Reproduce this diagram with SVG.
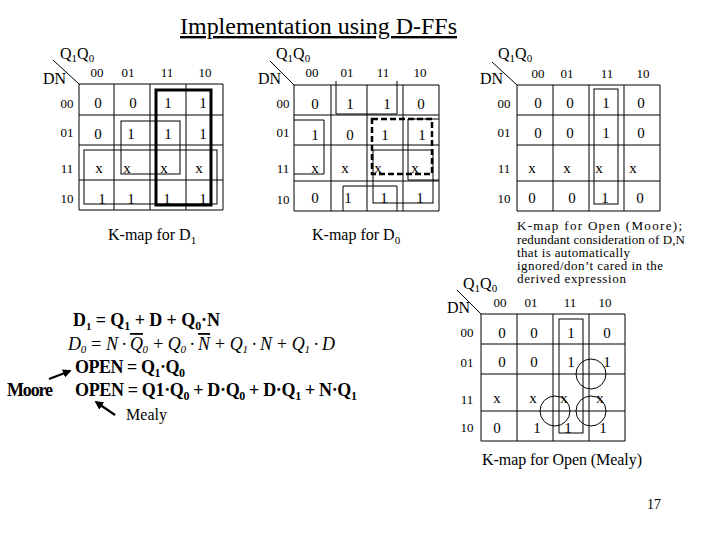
<svg xmlns="http://www.w3.org/2000/svg" width="720" height="540" viewBox="0 0 720 540">
<style>
text { font-family: "Liberation Serif", "Times New Roman", serif; fill: #000; }
.v { font-size: 15px; text-anchor: middle; }
.h { font-size: 13px; text-anchor: middle; }
.q { font-size: 16px; }
.s { font-size: 11px; }
.cap { font-size: 16px; }
.note { font-size: 13px; }
.eq { font-size: 18px; font-weight: bold; }
.grid { fill: none; stroke: #000; stroke-width: 1; }
.grp { fill: none; stroke: #000; stroke-width: 1; }
.thick { stroke-width: 3; }
.dash { stroke-width: 2.5; stroke-dasharray: 6 3; }
.diag { stroke: #000; stroke-width: 1; }
.arr { stroke: #000; stroke-width: 2.2; fill: none; marker-end: url(#ah); }
</style>
<defs>
<marker id="ah" viewBox="0 0 10 10" refX="8" refY="5" markerWidth="4" markerHeight="4" orient="auto">
<path d="M0,0 L10,5 L0,10 z" fill="#000"/>
</marker>
</defs>

<rect width="720" height="540" fill="#fff"/>

<text id="title" x="180" y="34" font-size="24" textLength="277" lengthAdjust="spacingAndGlyphs" text-decoration="underline">Implementation using D-FFs</text>

<g id="kmap-d1">
<line class="diag" x1="53" y1="60" x2="79" y2="84"/>
<text class="q" x="60" y="59">Q<tspan class="s" dy="3">1</tspan><tspan dy="-3">Q</tspan><tspan class="s" dy="3">0</tspan></text>
<text class="q" x="43" y="84">DN</text>
<text class="h" y="77"><tspan x="97">00</tspan><tspan x="128">01</tspan><tspan x="167">11</tspan><tspan x="205">10</tspan></text>
<text class="h" x="67" y="108">00</text>
<text class="h" x="67" y="137">01</text>
<text class="h" x="67" y="173">11</text>
<text class="h" x="67" y="203">10</text>
<path class="grid" d="M79,84 H223 V210 H79 Z M114,84 V210 M150,84 V210 M186,84 V210 M79,115 H223 M79,145 H223 M79,180 H223"/>
<text class="v" y="108"><tspan x="98">0</tspan><tspan x="133">0</tspan><tspan x="168">1</tspan><tspan x="203">1</tspan></text>
<text class="v" y="139"><tspan x="98">0</tspan><tspan x="131">1</tspan><tspan x="168">1</tspan><tspan x="203">1</tspan></text>
<text class="v" y="173"><tspan x="99">x</tspan><tspan x="127">x</tspan><tspan x="164">x</tspan><tspan x="199">x</tspan></text>
<text class="v" y="204"><tspan x="102">1</tspan><tspan x="131">1</tspan><tspan x="167">1</tspan><tspan x="203">1</tspan></text>
<rect class="grp thick" x="156" y="90" width="55" height="115"/>
<rect class="grp" x="121" y="121" width="59" height="53"/>
<rect class="grp" x="84" y="150" width="133" height="54"/>
<text class="cap" x="108" y="240">K-map for D<tspan class="s" dy="4">1</tspan></text>
</g>

<g id="kmap-d0">
<line class="diag" x1="270" y1="61" x2="294" y2="85"/>
<text class="q" x="276" y="59">Q<tspan class="s" dy="3">1</tspan><tspan dy="-3">Q</tspan><tspan class="s" dy="3">0</tspan></text>
<text class="q" x="258" y="84">DN</text>
<text class="h" y="77"><tspan x="312">00</tspan><tspan x="347">01</tspan><tspan x="383">11</tspan><tspan x="420">10</tspan></text>
<text class="h" x="283" y="108">00</text>
<text class="h" x="283" y="137">01</text>
<text class="h" x="283" y="173">11</text>
<text class="h" x="283" y="204">10</text>
<path class="grid" d="M294,85 H439 V211 H294 Z M331,85 V211 M367,85 V211 M403,85 V211 M294,115 H439 M294,145 H439 M294,181 H439"/>
<text class="v" y="109"><tspan x="315">0</tspan><tspan x="350">1</tspan><tspan x="387">1</tspan><tspan x="421">0</tspan></text>
<text class="v" y="140"><tspan x="315">1</tspan><tspan x="350">0</tspan><tspan x="385">1</tspan><tspan x="422">1</tspan></text>
<text class="v" y="173"><tspan x="315">x</tspan><tspan x="345">x</tspan><tspan x="378">x</tspan><tspan x="415">x</tspan></text>
<text class="v" y="203"><tspan x="315">0</tspan><tspan x="348">1</tspan><tspan x="384">1</tspan><tspan x="420">1</tspan></text>
<path class="grp" d="M336,81 V114 H397 V81"/>
<path class="grp" d="M343,211 V186 H397 V211"/>
<path class="grp" d="M294,120 H324 V174 H294"/>
<path class="grp" d="M439,119 H408 V180 H439"/>
<rect class="grp" x="373" y="150" width="60" height="53"/>
<rect class="grp dash" x="372" y="119" width="60" height="55"/>
<text class="cap" x="312" y="240">K-map for D<tspan class="s" dy="4">0</tspan></text>
</g>

<g id="kmap-open-moore">
<line class="diag" x1="492" y1="62" x2="517" y2="85"/>
<text class="q" x="498" y="59">Q<tspan class="s" dy="3">1</tspan><tspan dy="-3">Q</tspan><tspan class="s" dy="3">0</tspan></text>
<text class="q" x="480" y="84">DN</text>
<text class="h" y="78"><tspan x="538">00</tspan><tspan x="567">01</tspan><tspan x="607">11</tspan><tspan x="643">10</tspan></text>
<text class="h" x="504" y="108">00</text>
<text class="h" x="504" y="137">01</text>
<text class="h" x="504" y="173">11</text>
<text class="h" x="504" y="203">10</text>
<path class="grid" d="M517,85 H660 V211 H517 Z M553,85 V211 M589,85 V211 M624,85 V211 M517,115 H660 M517,145 H660 M517,181 H660"/>
<text class="v" y="108"><tspan x="538">0</tspan><tspan x="570">0</tspan><tspan x="606">1</tspan><tspan x="641">0</tspan></text>
<text class="v" y="138"><tspan x="538">0</tspan><tspan x="570">0</tspan><tspan x="606">1</tspan><tspan x="641">0</tspan></text>
<text class="v" y="173"><tspan x="532">x</tspan><tspan x="567">x</tspan><tspan x="599">x</tspan><tspan x="633">x</tspan></text>
<text class="v" y="203"><tspan x="532">0</tspan><tspan x="572">0</tspan><tspan x="605">1</tspan><tspan x="640">0</tspan></text>
<rect class="grp" x="594" y="89" width="24" height="115"/>
<text class="note" x="517" y="230" textLength="165" lengthAdjust="spacing">K-map for Open (Moore);</text>
<text class="note" x="517" y="243.5" textLength="168" lengthAdjust="spacing">redundant consideration of D,N</text>
<text class="note" x="517" y="257" textLength="113" lengthAdjust="spacing">that is automatically</text>
<text class="note" x="517" y="270" textLength="146" lengthAdjust="spacing">ignored/don’t cared in the</text>
<text class="note" x="517" y="283" textLength="109" lengthAdjust="spacing">derived expression</text>
</g>

<g id="kmap-open-mealy">
<line class="diag" x1="457" y1="290" x2="481" y2="314"/>
<text class="q" x="463" y="289">Q<tspan class="s" dy="3">1</tspan><tspan dy="-3">Q</tspan><tspan class="s" dy="3">0</tspan></text>
<text class="q" x="447" y="313">DN</text>
<text class="h" y="307"><tspan x="500">00</tspan><tspan x="531">01</tspan><tspan x="570">11</tspan><tspan x="605">10</tspan></text>
<text class="h" x="467" y="337">00</text>
<text class="h" x="467" y="367">01</text>
<text class="h" x="467" y="404">11</text>
<text class="h" x="467" y="432">10</text>
<path class="grid" d="M481,314 H625 V441 H481 Z M517,314 V441 M553,314 V441 M589,314 V441 M481,344 H625 M481,374 H625 M481,411 H625"/>
<text class="v" y="338"><tspan x="502">0</tspan><tspan x="534">0</tspan><tspan x="571">1</tspan><tspan x="607">0</tspan></text>
<text class="v" y="367"><tspan x="502">0</tspan><tspan x="534">0</tspan><tspan x="571">1</tspan><tspan x="607">1</tspan></text>
<text class="v" y="403"><tspan x="497">x</tspan><tspan x="533">x</tspan><tspan x="564">x</tspan><tspan x="600">x</tspan></text>
<text class="v" y="433"><tspan x="497">0</tspan><tspan x="537">1</tspan><tspan x="568">1</tspan><tspan x="603">1</tspan></text>
<rect class="grp" x="559" y="319" width="24" height="114"/>
<circle class="grp" cx="591" cy="374" r="15"/>
<circle class="grp" cx="555" cy="411" r="15"/>
<circle class="grp" cx="591" cy="411" r="15"/>
<text class="cap" x="482" y="465" textLength="160" lengthAdjust="spacing">K-map for Open (Mealy)</text>
</g>

<g id="equations">
<text class="eq" x="73" y="326" textLength="147" lengthAdjust="spacing">D<tspan class="s" font-size="12" dy="4">1</tspan><tspan dy="-4"> = Q</tspan><tspan font-size="12" dy="4">1</tspan><tspan dy="-4"> + D + Q</tspan><tspan font-size="12" dy="4">0</tspan><tspan dy="-4">·N</tspan></text>
<text x="68" y="350" font-size="18" font-style="italic" fill="#222" textLength="267" lengthAdjust="spacing">D<tspan font-size="11" dy="3">0</tspan><tspan dy="-3"> = N · </tspan><tspan text-decoration="overline">Q</tspan><tspan font-size="11" dy="3">0</tspan><tspan dy="-3"> + Q</tspan><tspan font-size="11" dy="3">0</tspan><tspan dy="-3"> · </tspan><tspan text-decoration="overline">N</tspan><tspan> + Q</tspan><tspan font-size="11" dy="3">1</tspan><tspan dy="-3"> · N + Q</tspan><tspan font-size="11" dy="3">1</tspan><tspan dy="-3"> · D</tspan></text>
<text class="eq" x="75" y="373" textLength="110" lengthAdjust="spacing">OPEN = Q<tspan font-size="12" dy="4">1</tspan><tspan dy="-4">·Q</tspan><tspan font-size="12" dy="4">0</tspan></text>
<text class="eq" x="75" y="396" textLength="282" lengthAdjust="spacing">OPEN = Q1·Q<tspan font-size="12" dy="4">0</tspan><tspan dy="-4"> + D·Q</tspan><tspan font-size="12" dy="4">0</tspan><tspan dy="-4"> + D·Q</tspan><tspan font-size="12" dy="4">1</tspan><tspan dy="-4"> + N·Q</tspan><tspan font-size="12" dy="4">1</tspan></text>
<text class="eq" x="7" y="396" textLength="46" lengthAdjust="spacing">Moore</text>
<text x="126" y="420" font-size="16" textLength="41" lengthAdjust="spacing">Mealy</text>
</g>

<g id="connectors">
<line class="arr" x1="49" y1="379" x2="70" y2="371"/>
<line class="arr" x1="115" y1="415" x2="96" y2="402"/>
</g>

<text id="page" x="647" y="509" font-size="14">17</text>
</svg>
